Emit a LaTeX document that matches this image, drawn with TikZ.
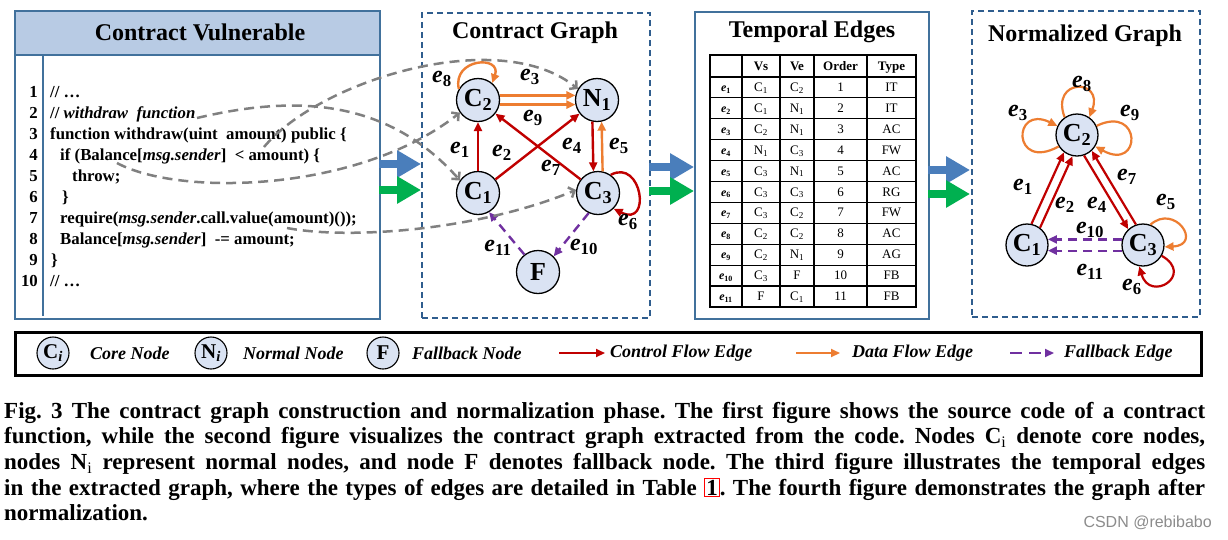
\documentclass[tikz,border=0pt]{standalone}
\usepackage{fontspec}
\setmainfont{Liberation Serif}
\newfontfamily\wmfont{Liberation Sans}
\usetikzlibrary{arrows.meta}
\definecolor{boxblue}{HTML}{41719C}
\definecolor{hdrblue}{HTML}{B8CBE4}
\definecolor{dashblue}{HTML}{2F5D8E}
\definecolor{nodefill}{HTML}{DAE3F3}
\definecolor{cred}{HTML}{C00000}
\definecolor{corange}{HTML}{ED7D31}
\definecolor{cpurple}{HTML}{7030A0}
\definecolor{cgrey}{HTML}{808080}
\definecolor{ablue}{HTML}{4A7EBB}
\definecolor{agreen}{HTML}{00B050}
\newcommand\myfs[1]{\fontsize{#1}{#1}\selectfont}
\newcommand\ee[1]{e\textsubscript{\upshape #1}}
\newcommand\redbox[1]{{\setlength{\fboxsep}{1pt}\setlength{\fboxrule}{1pt}\fcolorbox{red}{white}{#1}}}
\frenchspacing
\begin{document}
\begin{tikzpicture}[x=1pt,y=-1pt,
  boxsolid/.style={draw=boxblue, line width=2.2pt},
  boxdash/.style={draw=dashblue, line width=2pt, dash pattern=on 6pt off 4pt},
  title/.style={font=\myfs{24}\bfseries, inner sep=0pt},
  code/.style={anchor=base west, inner sep=0pt, font=\myfs{16.8}\bfseries},
  lnum/.style={anchor=base east, inner sep=0pt, font=\myfs{16.8}\bfseries},
  gnode/.style={circle, draw=black, line width=1.3pt, fill=nodefill, minimum size=43pt, inner sep=0pt, font=\myfs{26}\bfseries},
  elab/.style={inner sep=0pt, font=\myfs{24}\bfseries\itshape},
  redge/.style={draw=cred, line width=2.4pt, -{Triangle[length=9pt,width=8pt]}},
  oedge/.style={draw=corange, line width=2.4pt, -{Triangle[length=9pt,width=8pt]}},
  pedge/.style={draw=cpurple, line width=2.4pt, dash pattern=on 9pt off 6pt, -{Triangle[length=9pt,width=8pt]}},
  gcurve/.style={draw=cgrey, line width=2.5pt, dash pattern=on 10pt off 6pt, -{Straight Barb[length=5pt,width=11pt]}},
  fat/.style={line width=8pt, -{Triangle[length=24pt,width=26pt]}},
  tcell/.style={inner sep=0pt, font=\myfs{13}, text height=9pt, text depth=1pt},
  thead/.style={inner sep=0pt, font=\myfs{13}\bfseries, anchor=base},
  leg/.style={anchor=west, inner sep=0pt, font=\myfs{18}\bfseries\itshape},
  lnode/.style={circle, draw=black, line width=1.1pt, fill=nodefill, minimum size=32pt, inner sep=0pt, font=\myfs{21}\bfseries},
  capline/.style={anchor=base west, inner sep=0pt, font=\myfs{23}\bfseries}
]
\useasboundingbox (0,0) rectangle (1228,539);
\fill[white] (0,0) rectangle (1228,539);

% ---------- Box 1: Contract Vulnerable ----------
\fill[hdrblue] (14,10) rectangle (379,55);
\node[boxsolid, anchor=north west, minimum width=365pt, minimum height=308pt, inner sep=0pt] (cvbox) at (14,10) {};
\draw[boxblue, line width=2.2pt] (14,55) -- (379,55);
\draw[boxblue, line width=2.2pt] (43,55) -- (43,316);
\node[title] (cvtitle) at (200,32) {Contract Vulnerable};
\foreach \i in {1,...,10} {
  \node[lnum] (ln\i) at (38,{97.5+21*(\i-1)}) {\i};
}
\node[code] (c1) at (50,97.5) {// \ldots};
\node[code] (c2) at (50,118.5) {// \textit{withdraw\ \ function}};
\node[code] (c3) at (50,139.5) {function withdraw(uint\ \ amount) public \{};
\node[code] (c4) at (60,160.5) {if (Balance[\textit{msg.sender}]\ \ < amount) \{};
\node[code] (c5) at (72,181.5) {throw;};
\node[code] (c6) at (62,202.5) {\}};
\node[code] (c7) at (60,223.5) {require(\textit{msg.sender}.call.value(amount)());};
\node[code] (c8) at (60,244.5) {Balance[\textit{msg.sender}]\ \ -= amount;};
\node[code] (c9) at (51,265.5) {\}};
\node[code] (c10) at (50,286.5) {// \ldots};

% ---------- Box 2: Contract Graph ----------
\node[boxdash, anchor=north west, minimum width=228pt, minimum height=305pt, inner sep=0pt] (cgbox) at (421,12) {};
\node[title] (cgtitle) at (535,33) {Contract Graph};
\node[gnode] (C2) at (478,100) {C\textsubscript{2}};
\node[gnode] (N1) at (597,100) {N\textsubscript{1}};
\node[gnode] (C1) at (478,193) {C\textsubscript{1}};
\node[gnode] (C3) at (598,193) {C\textsubscript{3}};
\node[gnode] (F) at (538,272) {F};

\draw[redge] (C1.90) -- (C2.270);
\draw[redge] (C1.38) -- (N1.218);
\draw[redge] (C3.142) -- (C2.322);
\draw[redge] (N1.258) -- (C3.102);
\draw[oedge] (C3.78) -- (N1.282);
\draw[oedge] (C2.12) -- (N1.168);
\draw[oedge] (C2.-12) -- (N1.192);
\draw[oedge] (C2.150) .. controls (452,58) and (502,55) .. (C2.50);
\draw[redge] (C3.55) .. controls (642,158) and (652,228) .. (C3.-45);
\draw[pedge] (C3.245) -- (F.45);
\draw[pedge] (F.128) -- (C1.300);

\node[elab] (l8) at (442,79) {\ee{8}};
\node[elab] (l3) at (530,77) {\ee{3}};
\node[elab] (l9) at (533,118) {\ee{9}};
\node[elab] (l1) at (460,150) {\ee{1}};
\node[elab] (l2) at (502,153) {\ee{2}};
\node[elab] (l4) at (572,146) {\ee{4}};
\node[elab] (l5) at (619,146) {\ee{5}};
\node[elab] (l7) at (551,168) {\ee{7}};
\node[elab] (l6) at (628,222) {\ee{6}};
\node[elab] (l11) at (498,248) {\ee{11}};
\node[elab] (l10) at (584,247) {\ee{10}};

% grey dashed mapping curves
\coordinate (g1) at (197,118);
\coordinate (g2) at (117,163);
\coordinate (g3) at (264,147);
\coordinate (g4) at (287,228);
\draw[gcurve] (g1) .. controls (290,96) and (385,96) .. (C1.145);
\draw[gcurve] (g2) .. controls (180,197) and (360,192) .. (C2.215);
\draw[gcurve] (g3) .. controls (320,80) and (500,25) .. (N1.150);
\draw[gcurve] (g4) .. controls (350,240) and (480,230) .. (C3.172);

% ---------- Box 3: Temporal Edges ----------
\node[boxsolid, anchor=north west, minimum width=234pt, minimum height=307pt, inner sep=0pt] (tebox) at (694,11) {};
\node[title] (tetitle) at (812,32) {Temporal Edges};
\draw[line width=1.3pt] (710,55) rectangle (916,307);
\foreach \xx in {742,780,814,867} { \draw[line width=1.1pt] (\xx,55) -- (\xx,307); }
\draw[line width=1.1pt] (710,77) -- (916,77);
\foreach \r in {1,...,10} { \draw[line width=1.1pt] (710,{77+20.9*\r}) -- (916,{77+20.9*\r}); }
\node[thead] (hvs) at (761,70.5) {Vs};
\node[thead] (hve) at (797,70.5) {Ve};
\node[thead] (hor) at (840.5,70.5) {Order};
\node[thead] (hty) at (891.5,70.5) {Type};
\foreach \r/\vs/\ve/\ty [count=\k] in {
  1/C\textsubscript{1}/C\textsubscript{2}/IT,
  2/C\textsubscript{1}/N\textsubscript{1}/IT,
  3/C\textsubscript{2}/N\textsubscript{1}/AC,
  4/N\textsubscript{1}/C\textsubscript{3}/FW,
  5/C\textsubscript{3}/N\textsubscript{1}/AC,
  6/C\textsubscript{3}/C\textsubscript{3}/RG,
  7/C\textsubscript{3}/C\textsubscript{2}/FW,
  8/C\textsubscript{2}/C\textsubscript{2}/AC,
  9/C\textsubscript{2}/N\textsubscript{1}/AG,
  10/C\textsubscript{3}/F/FB,
  11/F/C\textsubscript{1}/FB} {
  \node[tcell, font=\myfs{12}\bfseries\itshape] (te\k) at (726,{87.5+20.9*(\k-1)}) {\ee{\r}};
  \node[tcell] (tvs\k) at (761,{87.5+20.9*(\k-1)}) {\vs};
  \node[tcell] (tve\k) at (797,{87.5+20.9*(\k-1)}) {\ve};
  \node[tcell] (tor\k) at (840.5,{87.5+20.9*(\k-1)}) {\r};
  \node[tcell] (tty\k) at (891.5,{87.5+20.9*(\k-1)}) {\ty};
}

% ---------- Box 4: Normalized Graph ----------
\node[boxdash, anchor=north west, minimum width=228pt, minimum height=306pt, inner sep=0pt] (ngbox) at (971,10) {};
\node[title] (ngtitle) at (1085,36) {Normalized Graph};
\node[gnode, minimum size=42pt] (M2) at (1077,135) {C\textsubscript{2}};
\node[gnode, minimum size=42pt] (M1) at (1027,245) {C\textsubscript{1}};
\node[gnode, minimum size=42pt] (M3) at (1143,245) {C\textsubscript{3}};
\draw[redge, line width=2.2pt] (M1.78) -- (M2.233);
\draw[redge, line width=2.2pt] (M1.53) -- (M2.258);
\draw[redge, line width=2.2pt] (M2.289) -- (M3.133);
\draw[redge, line width=2.2pt] (M3.109) -- (M2.313);
\draw[pedge, line width=2.2pt] (M3.165) -- (M1.15);
\draw[pedge, line width=2.2pt] (M3.195) -- (M1.345);
\draw[oedge, line width=2.2pt] (M2.125) .. controls (1050,78) and (1104,78) .. (M2.55);
\draw[oedge, line width=2.2pt] (M2.212) .. controls (1012,172) and (1012,104) .. (M2.155);
\draw[oedge, line width=2.2pt] (M2.25) .. controls (1142,104) and (1142,172) .. (M2.328);
\draw[oedge, line width=2.2pt] (M3.70) .. controls (1175,203) and (1203,245) .. (M3.355);
\draw[redge, line width=2.2pt] (M3.330) .. controls (1195,275) and (1150,303) .. (M3.260);
\node[elab] (m8) at (1082,84) {\ee{8}};
\node[elab] (m3) at (1018,113) {\ee{3}};
\node[elab] (m9) at (1130,113) {\ee{9}};
\node[elab] (m1) at (1023,187) {\ee{1}};
\node[elab] (m2) at (1065,205) {\ee{2}};
\node[elab] (m4) at (1097,205) {\ee{4}};
\node[elab] (m7) at (1127,177) {\ee{7}};
\node[elab] (m5) at (1166,202) {\ee{5}};
\node[elab] (m10) at (1090,230) {\ee{10}};
\node[elab] (m11) at (1090,272) {\ee{11}};
\node[elab] (m6) at (1132,287) {\ee{6}};

% ---------- fat transition arrows ----------
\coordinate (b1s) at (379,164); \coordinate (b1e) at (421,164);
\coordinate (g1s) at (379,190); \coordinate (g1e) at (421,190);
\coordinate (b2s) at (649,167); \coordinate (b2e) at (694,167);
\coordinate (g2s) at (649,191); \coordinate (g2e) at (694,191);
\coordinate (b3s) at (928,170); \coordinate (b3e) at (970,170);
\coordinate (g3s) at (928,194); \coordinate (g3e) at (970,194);
\draw[fat, ablue] (b1s) -- (b1e);
\draw[fat, agreen] (g1s) -- (g1e);
\draw[fat, ablue] (b2s) -- (b2e);
\draw[fat, agreen] (g2s) -- (g2e);
\draw[fat, ablue] (b3s) -- (b3e);
\draw[fat, agreen] (g3s) -- (g3e);

% ---------- Legend ----------
\node[draw=black, line width=2.5pt, anchor=north west, minimum width=1186pt, minimum height=43pt, inner sep=0pt] (legbox) at (14,331) {};
\node[lnode] (lc) at (53,353) {C\textsubscript{\itshape i}};
\node[leg] (tc) at (90,353) {Core Node};
\node[lnode] (ln) at (211,353) {N\textsubscript{\itshape i}};
\node[leg] (tn) at (243,353) {Normal Node};
\node[lnode] (lf) at (383,353) {F};
\node[leg] (tf) at (412,353) {Fallback Node};
\coordinate (la1) at (559,353); \coordinate (la2) at (605,353);
\draw[redge, line width=2pt] (la1) -- (la2);
\node[leg] (tcf) at (610,353) {Control Flow Edge};
\coordinate (lb1) at (796,353); \coordinate (lb2) at (840,353);
\draw[oedge, line width=2pt] (lb1) -- (lb2);
\node[leg] (tdf) at (852,353) {Data Flow Edge};
\coordinate (lp1) at (1010,353); \coordinate (lp2) at (1054,353);
\draw[pedge, line width=2pt, dash pattern=on 12pt off 7pt] (lp1) -- (lp2);
\node[leg] (tfe) at (1064,353) {Fallback Edge};

% ---------- Caption ----------
\node[capline] (cap1) at (4,418) {\makebox[1201pt][s]{Fig. 3 The contract graph construction and normalization phase. The first figure shows the source code of a contract}};
\node[capline] (cap2) at (4,443.7) {\makebox[1201pt][s]{function, while the second figure visualizes the contract graph extracted from the code. Nodes C\textsubscript{\mdseries i} denote core nodes,}};
\node[capline] (cap3) at (4,469.4) {\makebox[1201pt][s]{nodes N\textsubscript{\mdseries i} represent normal nodes, and node F denotes fallback node. The third figure illustrates the temporal edges}};
\node[capline] (cap4) at (4,495.1) {\makebox[1201pt][s]{in the extracted graph, where the types of edges are detailed in Table \redbox{1}. The fourth figure demonstrates the graph after}};
\node[capline] (cap5) at (4,520.8) {normalization.};
\node[anchor=east, inner sep=0pt, font=\wmfont\myfs{16}, text=black!45] (wm) at (1212,523) {CSDN @rebibabo};
\end{tikzpicture}
\end{document}
